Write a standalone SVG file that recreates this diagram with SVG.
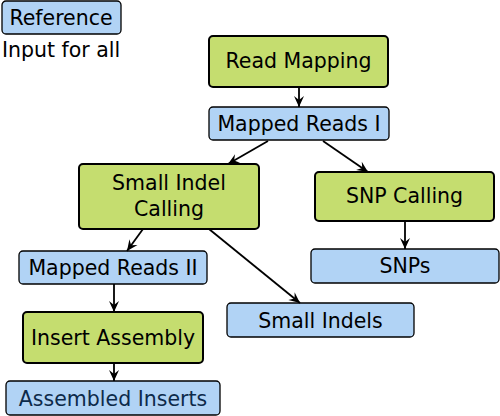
<svg xmlns="http://www.w3.org/2000/svg" width="500" height="416" viewBox="0 0 500 416">
<style>
.d{fill:#b1d3f5;stroke:#000;stroke-width:1.3}
.p{fill:#c5dd6f;stroke:#000;stroke-width:2}
text{font-family:"DejaVu Sans",sans-serif;font-size:20.5px;fill:#000;text-anchor:middle}
.c line{stroke:#000;stroke-width:1.8;marker-end:url(#ah)}
</style>
<defs>
<marker id="ah" viewBox="-12 -6 13 12" refX="0" refY="0" markerWidth="13" markerHeight="12" markerUnits="userSpaceOnUse" orient="auto">
<path d="M0,0 L-11,-5 L-7,0 L-11,5 Z" fill="#000"/>
</marker>
</defs>
<g id="reference"><rect class="d" x="2" y="1" width="119" height="33" rx="4"/><text x="61" y="25">Reference</text></g>
<text x="2" y="57" style="text-anchor:start">Input for all</text>
<g id="read-mapping"><rect class="p" x="209" y="36" width="179" height="51" rx="4"/><text x="298.5" y="68">Read Mapping</text></g>
<g id="mapped-reads-1"><rect class="d" x="209" y="107" width="180" height="33" rx="4"/><text x="299" y="131">Mapped Reads I</text></g>
<g id="small-indel-calling"><rect class="p" x="79" y="164" width="180" height="65" rx="4"/><text x="169" y="190">Small Indel</text><text x="169" y="216">Calling</text></g>
<g id="snp-calling"><rect class="p" x="315" y="172" width="179" height="49" rx="4"/><text x="404.5" y="203">SNP Calling</text></g>
<g id="mapped-reads-2"><rect class="d" x="19" y="251" width="188" height="33" rx="4"/><text x="113" y="275">Mapped Reads II</text></g>
<g id="snps"><rect class="d" x="311" y="249" width="188" height="34" rx="4"/><text x="405" y="273">SNPs</text></g>
<g id="small-indels"><rect class="d" x="227" y="303" width="187" height="34" rx="4"/><text x="320.5" y="328">Small Indels</text></g>
<g id="insert-assembly"><rect class="p" x="23" y="312" width="180" height="51" rx="4"/><text x="113" y="345">Insert Assembly</text></g>
<g id="assembled-inserts"><rect class="d" x="6" y="381" width="214" height="34" rx="4"/><text x="113" y="406" style="fill:#0d2a4a">Assembled Inserts</text></g>
<g class="c">
<line x1="299" y1="87" x2="299" y2="107"/>
<line x1="268" y1="141" x2="228" y2="164"/>
<line x1="323" y1="141" x2="368" y2="172"/>
<line x1="405" y1="221" x2="405" y2="249"/>
<line x1="143" y1="229" x2="127" y2="251"/>
<line x1="209" y1="229" x2="300" y2="303"/>
<line x1="114" y1="284" x2="114" y2="312"/>
<line x1="114" y1="363" x2="114" y2="381"/>
</g>
</svg>
